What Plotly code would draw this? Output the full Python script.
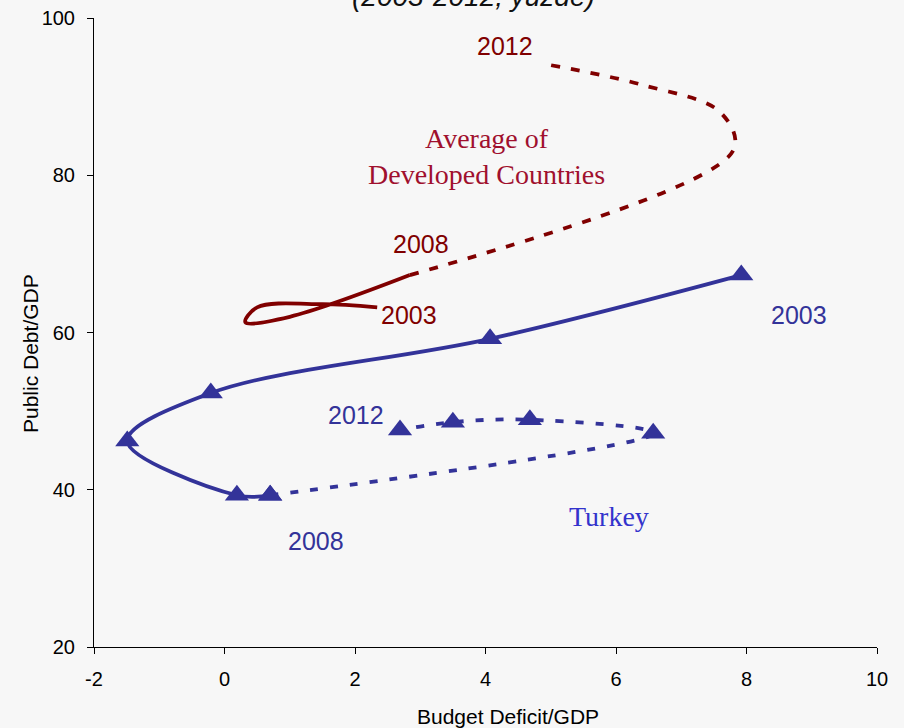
import plotly.graph_objects as go

# ---- data ----
years = [2003, 2004, 2005, 2006, 2007, 2008, 2009, 2010, 2011, 2012]

turkey_deficit = [7.92, 4.07, -0.21, -1.49, 0.19, 0.70, 6.57, 4.68, 3.50, 2.69]
turkey_debt = [67.3, 59.2, 52.3, 46.2, 39.3, 39.3, 47.2, 48.9, 48.6, 47.6]

dev_deficit = [2.34, 1.50, 0.50, 0.32, 1.00, 2.84, 7.80, 7.60, 6.40, 5.00]
dev_debt = [63.2, 63.6, 63.2, 61.3, 62.0, 67.3, 83.2, 88.0, 91.5, 94.0]

x_ticks = [-2, 0, 2, 4, 6, 8, 10]
x_tick_text = ["-2", "0", "2", "4", "6", "8", "10"]
y_ticks = [20, 40, 60, 80, 100]
y_tick_text = ["20", "40", "60", "80", "100"]

BLUE = "#333399"
RED = "#800000"
split = years.index(2008)

fig = go.Figure()

# Developed countries: solid 2003-2008, dashed 2008-2012
fig.add_trace(go.Scatter(
    x=dev_deficit[:split + 1], y=dev_debt[:split + 1], mode="lines",
    line=dict(color=RED, width=3.8, shape="spline"), hoverinfo="skip"))
fig.add_trace(go.Scatter(
    x=dev_deficit[split:], y=dev_debt[split:], mode="lines",
    line=dict(color=RED, width=3.8, shape="spline", dash="9px,11px"), hoverinfo="skip"))

# Turkey
fig.add_trace(go.Scatter(
    x=turkey_deficit[:split + 1], y=turkey_debt[:split + 1], mode="lines+markers",
    line=dict(color=BLUE, width=3.8, shape="spline"),
    marker=dict(symbol="triangle-up", size=21, color=BLUE), hoverinfo="skip"))
fig.add_trace(go.Scatter(
    x=turkey_deficit[split:], y=turkey_debt[split:], mode="lines+markers",
    line=dict(color=BLUE, width=3.8, shape="spline", dash="8px,12px"),
    marker=dict(symbol="triangle-up", size=21, color=BLUE), hoverinfo="skip"))

sans = "Liberation Sans, Arial, sans-serif"
serif = "Liberation Serif, Times New Roman, serif"

annotations = [
    # year labels
    dict(x=4.30, y=96.4, text="2012", font=dict(family=sans, size=25, color=RED)),
    dict(x=3.01, y=71.25, text="2008", font=dict(family=sans, size=25, color=RED)),
    dict(x=2.83, y=62.2, text="2003", font=dict(family=sans, size=25, color=RED)),
    dict(x=8.80, y=62.2, text="2003", font=dict(family=sans, size=25, color=BLUE)),
    dict(x=2.02, y=49.5, text="2012", font=dict(family=sans, size=25, color=BLUE)),
    dict(x=1.40, y=33.5, text="2008", font=dict(family=sans, size=25, color=BLUE)),
    # series labels
    dict(x=4.02, y=82.4, text="Average of<br>Developed Countries",
         font=dict(family=serif, size=28, color="#a0102e")),
    dict(x=5.89, y=36.6, text="Turkey", font=dict(family=serif, size=28, color="#3333cc")),
]
for a in annotations:
    a.update(xref="x", yref="y", showarrow=False, xanchor="center", yanchor="middle")

# axis titles and (cropped) title
annotations += [
    dict(xref="paper", yref="paper", x=0, y=0.4658, xshift=-64, text="Public Debt/GDP",
         textangle=-90, showarrow=False, xanchor="center", yanchor="middle",
         font=dict(family=sans, size=21, color="black")),
    dict(xref="paper", yref="paper", x=0.5287, y=0, yshift=-69, text="Budget Deficit/GDP",
         showarrow=False, xanchor="center", yanchor="middle",
         font=dict(family=sans, size=21, color="black")),
    dict(xref="paper", yref="paper", x=0.485, y=1, yshift=22, text="<i>(2003-2012, yüzde)</i>",
         showarrow=False, xanchor="center", yanchor="middle",
         font=dict(family=sans, size=28, color="#111111")),
]

axis_common = dict(showgrid=False, zeroline=False, showline=True, linecolor="black",
                   linewidth=1, ticks="outside", ticklen=6, tickcolor="black",
                   tickwidth=1, tickmode="array", automargin=False,
                   tickfont=dict(family=sans, size=20, color="black"))

fig.update_layout(
    width=904, height=728,
    margin=dict(l=94, r=27, t=18, b=81),
    paper_bgcolor="#f7f7f7", plot_bgcolor="#f7f7f7",
    showlegend=False,
    annotations=annotations,
    xaxis=dict(range=[-2, 10], tickvals=x_ticks, ticktext=x_tick_text,
               ticklabelstandoff=8, **axis_common),
    yaxis=dict(range=[20, 100], tickvals=y_ticks, ticktext=y_tick_text,
               ticklabelstandoff=8, **axis_common),
)

fig.write_html("out.html", config={"displayModeBar": False},
               post_script="document.body.style.margin='0';document.body.style.overflow='hidden';")
